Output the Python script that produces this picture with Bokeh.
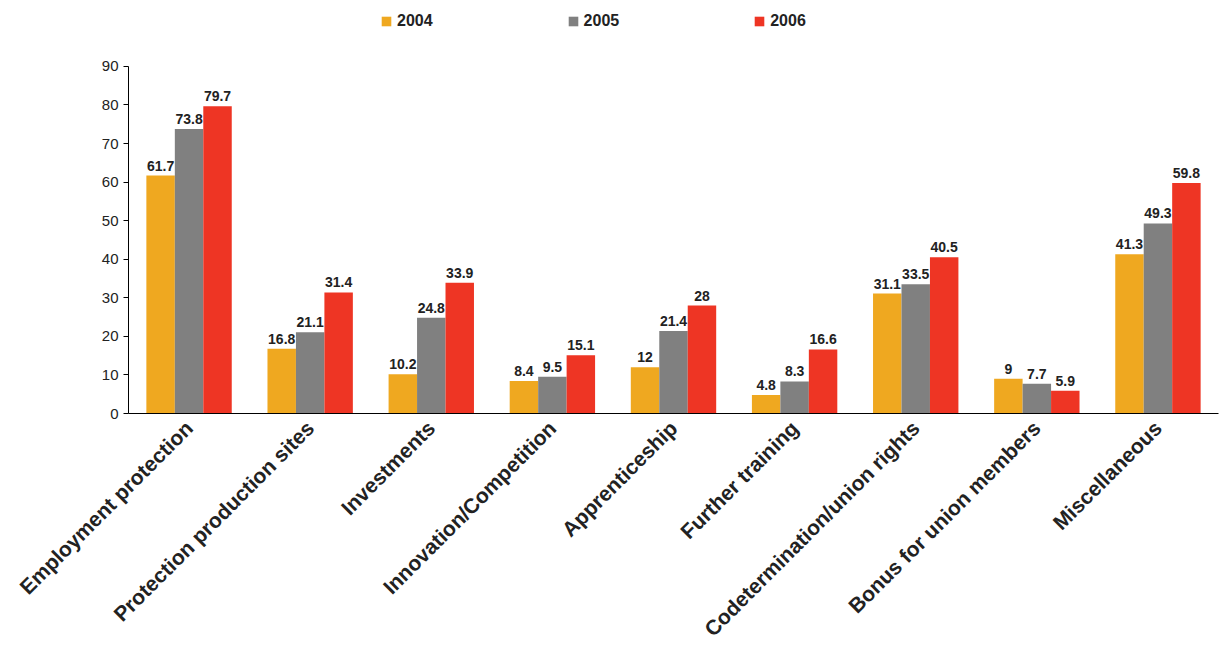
from bokeh.plotting import figure
from bokeh.models import ColumnDataSource, Legend, LegendItem, LabelSet, FactorRange
from bokeh.core.properties import value
from bokeh.transform import dodge
from bokeh.embed import file_html
from bokeh.resources import INLINE
import math

categories = ["Employment protection", "Protection production sites", "Investments",
              "Innovation/Competition", "Apprenticeship", "Further training",
              "Codetermination/union rights", "Bonus for union members", "Miscellaneous"]
v2004 = [61.7, 16.8, 10.2, 8.4, 12, 4.8, 31.1, 9, 41.3]
v2005 = [73.8, 21.1, 24.8, 9.5, 21.4, 8.3, 33.5, 7.7, 49.3]
v2006 = [79.7, 31.4, 33.9, 15.1, 28, 16.6, 40.5, 5.9, 59.8]
years = ["2004", "2005", "2006"]
colors = ["#EFA820", "#808080", "#EE3524"]

def fmt(v):
    return str(int(v)) if v == int(v) else str(v)

src = ColumnDataSource(dict(cat=categories, a=v2004, b=v2005, c=v2006,
                            la=[fmt(v) for v in v2004], lb=[fmt(v) for v in v2005], lc=[fmt(v) for v in v2006]))

p = figure(x_range=FactorRange(*categories), y_range=(0, 104.5), frame_width=1090, frame_height=403,
           output_backend="svg", toolbar_location=None, min_border_left=128, min_border_right=2,
           min_border_top=10, min_border_bottom=0)
p.outline_line_color = None
p.grid.visible = False

W = 0.235
items = []
for off, col, lab, yr, c in zip([-W, 0, W], ["a", "b", "c"], ["la", "lb", "lc"], years, colors):
    r = p.vbar(x=dodge("cat", off, range=p.x_range), top=col, width=W, source=src,
               fill_color=c, line_color=None)
    items.append(LegendItem(label=yr, renderers=[r]))
    p.add_layout(LabelSet(x=dodge("cat", off, range=p.x_range), y=col, text=lab, source=src,
                          text_align="center", text_baseline="bottom", y_offset=5,
                          text_font=value("Liberation Sans"), text_font_style="bold",
                          text_font_size="14px", text_color="#222222"))

leg = Legend(items=items, orientation="horizontal", location=(252, 383), border_line_color=None,
             background_fill_alpha=0,
             label_text_font="Liberation Sans", label_text_font_style="bold", label_text_font_size="16px",
             label_text_color="#222222",
             glyph_width=12, glyph_height=12, spacing=134, label_standoff=5, margin=0, padding=2)
p.add_layout(leg, "center")

p.yaxis.ticker = list(range(0, 100, 10))
p.yaxis.bounds = (0, 90)
for ax in [p.xaxis[0], p.yaxis[0]]:
    ax.axis_line_color = "black"
    ax.minor_tick_line_color = None
p.yaxis.major_label_text_font = "Liberation Sans"
p.yaxis.major_label_text_font_size = "15px"
p.yaxis.major_label_text_color = "#222222"
p.yaxis.major_tick_out = 5
p.yaxis.major_tick_in = 0
p.xaxis.major_tick_line_color = None
p.xaxis.major_label_orientation = math.pi / 4
p.xaxis.major_label_text_font = "Liberation Sans"
p.xaxis.major_label_text_font_style = "bold"
p.xaxis.major_label_text_font_size = "21px"
p.xaxis.major_label_text_color = "#222222"

open("out.html", "w").write(file_html(p, INLINE))
